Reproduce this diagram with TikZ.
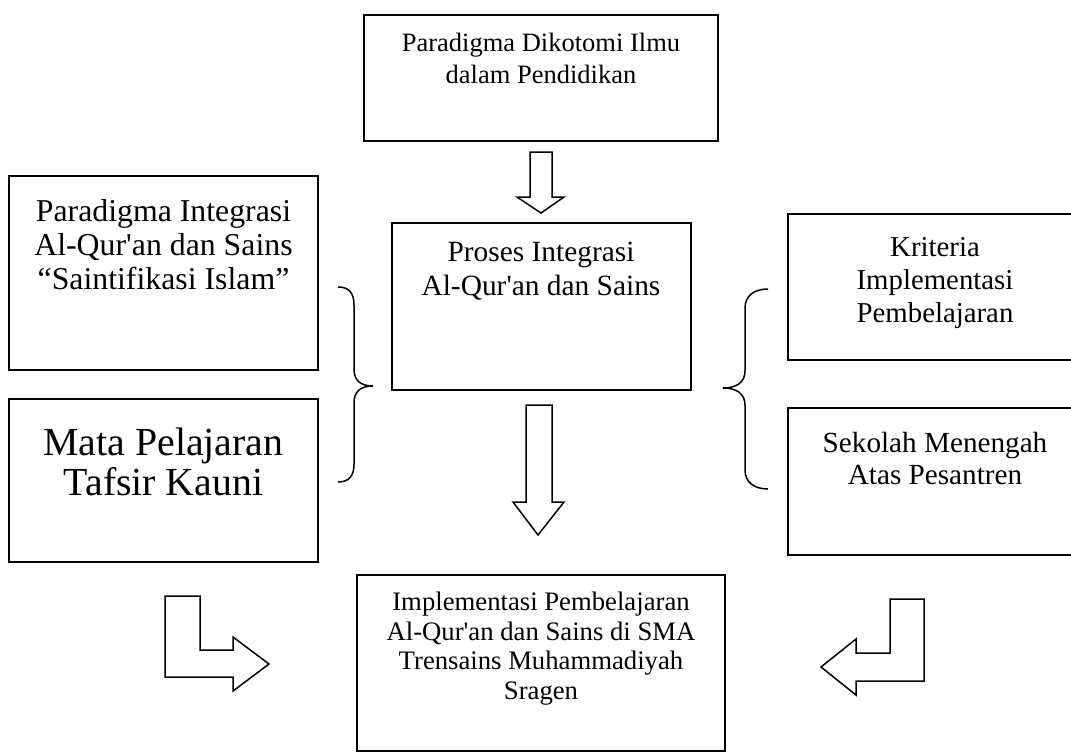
\documentclass[tikz,border=0pt]{standalone}
\usepackage{fontspec}
\setmainfont{Liberation Serif}[Ligatures=TeXOff]
\usetikzlibrary{positioning}

\tikzset{
  kotak/.style={draw, line width=1pt, inner sep=0pt, outer sep=0pt},
  teks/.style={inner sep=0pt, align=center},
  panah/.style={draw, line width=0.75pt, line join=miter},
  kurung/.style={draw, line width=0.75pt},
}
\newcommand{\ukuran}[2]{\fontsize{#1}{#2}\selectfont}

\begin{document}
\begin{tikzpicture}[x=0.5pt, y=-0.5pt]
  \useasboundingbox (0,0) rectangle (1071,755);

  % kotak tengah
  \node[kotak, minimum width=177pt, minimum height=63pt] (dikotomi) at (541,78) {};
  \node[kotak, minimum width=149.5pt, minimum height=83.5pt] (proses) [below=41pt of dikotomi] {};
  \node[kotak, minimum width=184pt, minimum height=88pt] (implementasi) [below=92.5pt of proses] {};

  % kotak kiri
  \node[kotak, minimum width=154.5pt, minimum height=97pt] (integrasi) at (163.5,273) {};
  \node[kotak, minimum width=154.5pt, minimum height=81.5pt] (tafsir) [below=14.5pt of integrasi] {};

  % kotak kanan
  \node[kotak, minimum width=147pt, minimum height=73pt] (kriteria) at (935,287) {};
  \node[kotak, minimum width=147pt, minimum height=73.5pt] (sekolah) [below=24pt of kriteria] {};

  % teks
  \node[teks, font=\ukuran{13.25}{15.75}] (dikotomi-t) [below=9pt of dikotomi.north] {Paradigma Dikotomi Ilmu\\dalam Pendidikan};
  \node[teks, font=\ukuran{14.7}{16.75}] (proses-t) [below=9.5pt of proses.north] {Proses Integrasi\\Al-Qur'an dan Sains};
  \node[teks, font=\ukuran{13.35}{14.75}] (implementasi-t) [below=8.5pt of implementasi.north] {Implementasi Pembelajaran\\Al-Qur'an dan Sains di SMA\\Trensains Muhammadiyah\\Sragen};
  \node[teks, font=\ukuran{15.9}{17}] (integrasi-t) [below=11.5pt of integrasi.north] {Paradigma Integrasi\\Al-Qur'an dan Sains\\“Saintifikasi Islam”};
  \node[teks, font=\ukuran{19.9}{20}] (tafsir-t) [below=14pt of tafsir.north] {Mata Pelajaran\\Tafsir Kauni};
  \node[teks, font=\ukuran{14.4}{16.5}] (kriteria-t) [below=11.5pt of kriteria.north] {Kriteria\\Implementasi\\Pembelajaran};
  \node[teks, font=\ukuran{14.6}{16}] (sekolah-t) [below=12pt of sekolah.north] {Sekolah Menengah\\Atas Pesantren};

  % panah blok
  \draw[panah] (530,152) -- (552,152) -- (552,197) -- (564,197) -- (541,213) -- (517,197) -- (530,197) -- cycle;
  \draw[panah] (526,405) -- (552,405) -- (552,502) -- (564,502) -- (538,535) -- (513,502) -- (526,502) -- cycle;
  \draw[panah] (165,596) -- (200,596) -- (200,650) -- (233,650) -- (233,637) -- (269,664) -- (233,691) -- (233,677) -- (165,677) -- cycle;
  \draw[panah] (890,599) -- (924,599) -- (924,681) -- (856,681) -- (856,695) -- (821,667) -- (856,639) -- (856,653) -- (890,653) -- cycle;

  % kurung kurawal
  \draw[kurung] (338,287) .. controls (349,287) and (354,293) .. (354,305) -- (354,369)
    .. controls (354,380) and (360,386) .. (373,386)
    .. controls (360,386) and (354,392) .. (354,403) -- (354,464)
    .. controls (354,476) and (349,482) .. (338,482);
  \draw[kurung] (768,289) .. controls (754,289) and (745,296) .. (745,308) -- (745,371)
    .. controls (745,382) and (737,388) .. (723,388)
    .. controls (737,388) and (745,394) .. (745,405) -- (745,470)
    .. controls (745,482) and (754,489) .. (768,489);

\end{tikzpicture}
\end{document}
